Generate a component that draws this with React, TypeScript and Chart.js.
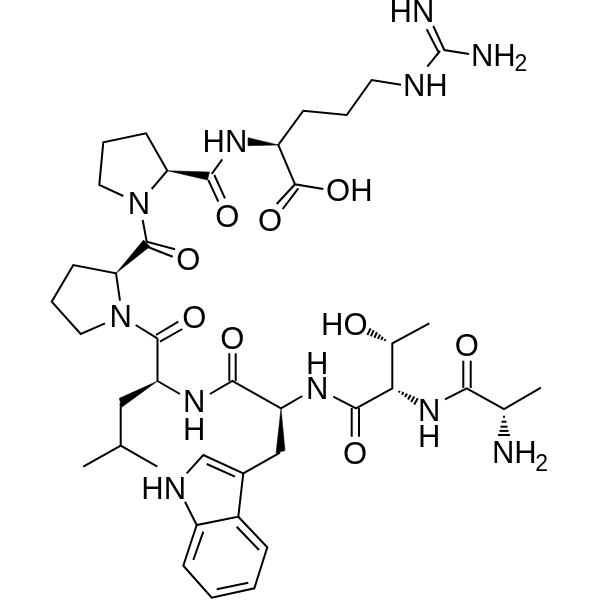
import React, { useEffect, useRef } from 'react';
import { Chart, registerables } from 'chart.js';

Chart.register(...registerables);

type Pt = [number, number];

// connected bonds (x, y in picture pixels)
const skeletonBonds: Pt[][] = [
    // guanidine + arginine side chain
    [[433.3, 26], [444.3, 50], [469, 54]],
    [[426.7, 29.3], [438.3, 51.7]],
    [[440, 51], [427.3, 66.7]],
    [[401, 84.7], [371.7, 80], [346.7, 115], [303.3, 110.7], [278.3, 145], [295, 184.3], [323.3, 189]],
    [[295, 184.3], [276.7, 204]],
    [[298.3, 188.3], [282.7, 209]],
    // first proline
    [[151.7, 189], [167.3, 170.7], [146, 133.3], [103.3, 142.3], [99.3, 185], [123.3, 196]],
    [[211.7, 174], [222.3, 159.3]],
    [[208.3, 180], [218.3, 201.7]],
    [[214.3, 175], [225, 198.3]],
    [[142.7, 220], [146.7, 241.7], [175, 249.3]],
    [[147.3, 246.7], [172.7, 256.7]],
    // second proline
    [[120, 300.7], [116, 273.3], [73.3, 265], [51.7, 301.7], [80.7, 334], [105, 323.3]],
    // leucine
    [[135.7, 325], [157.3, 338.3]],
    [[156, 335], [178.3, 321.7]],
    [[160, 341.7], [182.3, 329]],
    [[157.5, 338.3], [157.5, 381], [180, 394]],
    [[120.7, 403], [120.7, 445.7], [83.3, 466.7]],
    [[120.7, 445.7], [157.3, 466.7]],
    // tryptophan
    [[210, 394], [232.3, 381], [281, 408.3], [302.3, 396]],
    [[229.3, 381], [229.3, 353.3]],
    [[235.7, 381], [235.7, 353.3]],
    [[280, 452.7], [243.3, 473.3], [203.3, 455], [186.7, 473.3]],
    [[235, 476.7], [206.7, 464]],
    [[243.3, 473.3], [238.3, 516.7], [196.7, 525], [185, 501.7]],
    [[238.3, 516.7], [267.3, 547.3], [254.3, 588.3], [211.7, 597.7], [183.3, 565.7], [196.7, 525]],
    [[236.7, 526.7], [259, 550]],
    [[248.3, 582.7], [216.7, 589.3]],
    [[193.3, 560], [203.3, 531.7]],
    // threonine
    [[333.3, 396.7], [356, 408.3], [392.3, 388.3], [392.3, 343.3], [429.3, 323.3]],
    [[351.7, 408], [351.7, 436.7]],
    [[359, 408], [359, 436.7]],
    // alanine
    [[445, 399.3], [466.7, 388.3], [504, 409], [541, 387.7]],
    [[463.3, 388], [463.3, 360.7]],
    [[470.7, 388], [470.7, 360.7]],
];

// solid wedge bonds
const wedgeBonds: Pt[][] = [
    [[278.3, 145], [248.3, 137.7], [248.3, 145.7]],
    [[167.3, 170.7], [209.5, 172], [207.5, 180]],
    [[116, 273.3], [143.5, 240], [150, 246.5]],
    [[157.7, 381], [119.3, 398.3], [121.7, 407.3]],
    [[281, 408.3], [276, 453.3], [285, 450.5]],
];

// hashed wedge bonds, one short stripe each
const hashStripes: Pt[][] = [
    [[384.6, 340.9], [385.4, 339.1]],
    [[381.2, 339.9], [382.8, 336.7]],
    [[377.9, 338.9], [380.1, 334.5]],
    [[374.4, 337.7], [377, 332.3]],
    [[370.9, 336.4], [373.7, 330.2]],
    [[367.4, 335], [370.6, 328.4]],
    [[398.9, 392.5], [399.7, 390.9]],
    [[402, 394.8], [403.4, 391.8]],
    [[405, 397], [407, 393.6]],
    [[408, 399.6], [410.6, 395]],
    [[411.1, 402], [414.3, 396.6]],
    [[414.2, 404.4], [417.8, 398.2]],
    [[503, 416.7], [505, 416.7]],
    [[501.5, 421.7], [506.5, 421.7]],
    [[500.5, 426.7], [507.5, 426.7]],
    [[499.5, 430.9], [508.5, 430.9]],
    [[498, 435], [510, 435]],
];

const atomTexts = ['HN', 'NH', 'NH', 'OH', 'HN', 'O', 'O', 'N', 'O', 'N', 'O', 'N', 'H', 'O', 'HN', 'N', 'H', 'O', 'HO', 'N', 'H', 'O', 'NH'];
const atomX = [412, 493.3, 425.3, 349.3, 225, 227.3, 270, 139, 188.3, 120.7, 194.3, 194.3, 194.3, 232.3, 163.7, 317.3, 317.3, 355, 344.3, 429.3, 429.3, 466.7, 514.3];
const atomY = [11.7, 55.3, 85.3, 190, 141.3, 216, 220.7, 203.3, 259, 316.7, 317.3, 401.7, 429.3, 338.3, 488.3, 388.3, 363.3, 453.3, 324.3, 410, 436, 345.7, 452.3];

const subscriptX = [521, 541.7];
const subscriptY = [63, 463];

const atomLabels = {
    id: 'atomLabels',
    afterDatasetsDraw(chart: Chart) {
        const { ctx, scales } = chart;
        ctx.save();
        ctx.fillStyle = '#000';
        ctx.textAlign = 'center';
        ctx.textBaseline = 'alphabetic';
        ctx.font = '31px "Liberation Sans"';
        atomTexts.forEach((t, i) => {
            // cap height of the font is about 21px
            ctx.fillText(t, scales.x.getPixelForValue(atomX[i]), scales.y.getPixelForValue(atomY[i]) + 10.5);
        });
        ctx.font = '23px "Liberation Sans"';
        subscriptX.forEach((x, i) => {
            ctx.fillText('2', scales.x.getPixelForValue(x), scales.y.getPixelForValue(subscriptY[i]) + 8);
        });
        ctx.restore();
    },
};

const toData = (pts: Pt[]) => pts.map(([x, y]) => ({ x, y }));

const MoleculeChart: React.FC = () => {
    const chartRef = useRef<HTMLCanvasElement | null>(null);

    useEffect(() => {
        document.body.style.margin = '0';
        if (!chartRef.current) return;

        const lines = [...skeletonBonds, ...hashStripes].map((pts) => ({
            data: toData(pts),
            showLine: true,
            borderColor: '#000',
            borderWidth: 2,
            borderJoinStyle: 'miter' as const,
            pointRadius: 0,
            fill: false,
        }));
        const wedges = wedgeBonds.map((pts) => ({
            data: toData([...pts, pts[0]]),
            showLine: true,
            borderColor: '#000',
            borderWidth: 0.5,
            backgroundColor: '#000',
            pointRadius: 0,
            fill: 'shape' as const,
        }));

        const chart = new Chart(chartRef.current, {
            type: 'scatter',
            data: { datasets: [...lines, ...wedges] },
            options: {
                animation: false,
                responsive: false,
                layout: { padding: 0 },
                scales: {
                    x: { type: 'linear', min: 0, max: 600, display: false },
                    y: { type: 'linear', min: 0, max: 600, reverse: true, display: false },
                },
                plugins: {
                    legend: { display: false },
                    tooltip: { enabled: false },
                },
            },
            plugins: [atomLabels],
        });

        return () => {
            chart.destroy();
        };
    }, []);

    return <canvas ref={chartRef} width="600" height="600" style={{ display: 'block' }}></canvas>;
};

export default function App() {
    return <MoleculeChart />;
}
